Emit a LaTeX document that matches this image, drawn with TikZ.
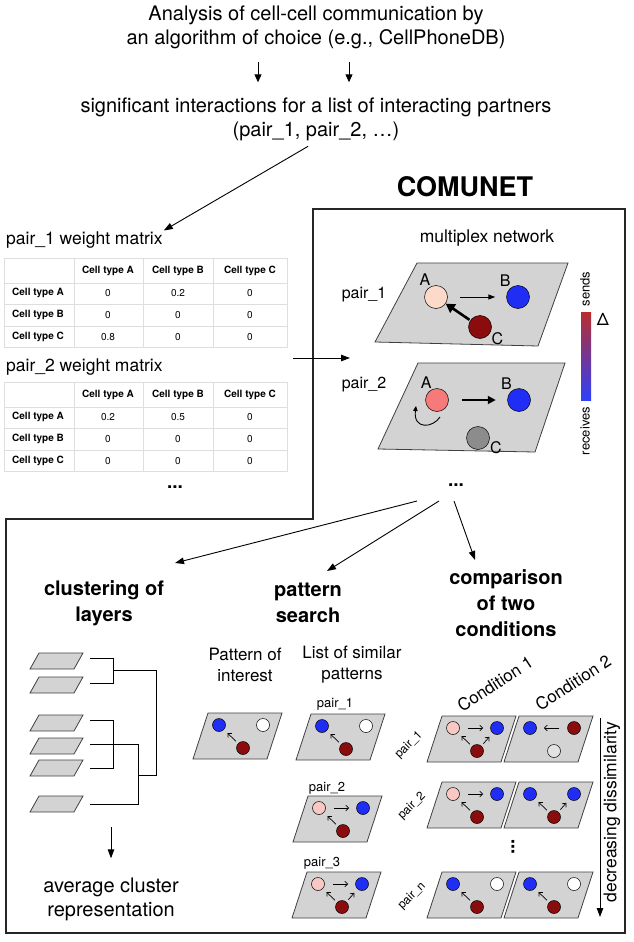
\documentclass[tikz,border=0pt]{standalone}
\usepackage{fontspec}
\setmainfont{TeX Gyre Heros}
\usepackage{tikz}
\usetikzlibrary{arrows.meta,calc,positioning}
\usepackage{xcolor}
\definecolor{slabgray}{RGB}{211,211,211}
\definecolor{cellblue}{RGB}{32,46,245}
\definecolor{cellred}{RGB}{138,12,12}
\definecolor{peach}{RGB}{252,218,202}
\definecolor{rosy}{RGB}{248,200,194}
\definecolor{salmon}{RGB}{247,122,122}
\definecolor{midgray}{RGB}{140,140,140}
\definecolor{palegray}{RGB}{226,226,226}
\definecolor{gridgray}{RGB}{222,222,222}
\definecolor{barred}{RGB}{185,45,45}
\definecolor{bargray}{RGB}{110,110,115}
\definecolor{barblue}{RGB}{45,65,250}

\tikzset{
  toptext/.style={font=\fontsize{20}{24}\selectfont, align=center, inner sep=1pt},
  midtext/.style={font=\fontsize{17.5}{21}\selectfont, align=center, inner sep=1pt},
  headtext/.style={font=\fontsize{20}{26}\selectfont\bfseries, align=center, inner sep=1pt},
  tabhead/.style={font=\fontsize{10}{12}\selectfont\bfseries, inner sep=1pt},
  tabval/.style={font=\fontsize{10}{12}\selectfont, inner sep=1pt},
  netlabel/.style={font=\fontsize{16}{18}\selectfont, inner sep=0.5pt},
  smalltext/.style={font=\fontsize{13}{15}\selectfont, inner sep=1pt},
  tinytext/.style={font=\fontsize{12}{14}\selectfont, inner sep=1pt},
  dotstext/.style={font=\fontsize{19}{20}\selectfont\bfseries, inner sep=1pt},
  slab/.style={draw=black!75, fill=slabgray, line width=0.8pt},
  cellnode/.style={circle, draw=black, line width=0.5pt, minimum size=13pt, inner sep=0pt},
  bigcell/.style={cellnode, minimum size=23pt},
  headarrow/.style={-{Triangle[length=9pt,width=6.5pt]}, line width=0.9pt},
  thinarrow/.style={-{Straight Barb[length=3pt,width=5.5pt]}, line width=0.7pt, shorten <=3pt, shorten >=5pt},
  harrow/.style={thinarrow, shorten <=8pt, shorten >=7pt},
  dendro/.style={line width=0.9pt},
  tabline/.style={draw=gridgray, line width=0.5pt},
  comubox/.style={draw=black!85, line width=1.2pt},
}

\begin{document}
\begin{tikzpicture}[x=1pt,y=-1pt]
  \useasboundingbox (0,0) rectangle (633,942);

  % input of the pipeline
  \node[toptext] (algo) at (316,27) {Analysis of cell-cell communication by\\an algorithm of choice (e.g., CellPhoneDB)};
  \node[toptext] (sig) at (316,119) {significant interactions for a list of interacting partners\\(pair\_1, pair\_2, …)};
  \foreach \dx in {-58,33}
    \draw[-{Triangle[length=8pt,width=7pt]}, line width=1pt, shorten <=12.5pt, shorten >=14pt] ([xshift=\dx pt]algo.south) -- ([xshift=\dx pt]sig.north);

  % weight matrices
  \node[midtext, anchor=west] (wone) at (5,240) {pair\_1 weight matrix};
  \node[midtext, anchor=west] (wtwo) at (5,367) {pair\_2 weight matrix};
  \draw[headarrow, shorten <=9pt] (sig.south) -- (wone.north east);
  \foreach \oy in {0,124} {
    \draw[tabline] (4,258+\oy) rectangle (287,347+\oy);
    \foreach \yy in {283,304,326} \draw[tabline] (4,\yy+\oy) -- (287,\yy+\oy);
    \foreach \xx in {74,143,213} \draw[tabline] (\xx,258+\oy) -- (\xx,347+\oy);
    \foreach \c/\xx in {A/108,B/178,C/250} \node[tabhead] (h\oy\c) at (\xx,271+\oy) {Cell type \c};
    \foreach \r/\yy in {A/293,B/315,C/337} \node[tabhead, anchor=west] (r\oy\r) at (11,\yy+\oy) {Cell type \r};
  }
  \foreach \r/\yy/\va/\vb/\vc in {A/293/0/0.2/0, B/315/0/0/0, C/337/0.8/0/0} {
    \node[tabval] (one\r a) at (108,\yy) {\va};
    \node[tabval] (one\r b) at (178,\yy) {\vb};
    \node[tabval] (one\r c) at (250,\yy) {\vc};
  }
  \foreach \r/\yy/\va/\vb/\vc in {A/417/0.2/0.5/0, B/439/0/0/0, C/461/0/0/0} {
    \node[tabval] (two\r a) at (108,\yy) {\va};
    \node[tabval] (two\r b) at (178,\yy) {\vb};
    \node[tabval] (two\r c) at (250,\yy) {\vc};
  }
  \node[dotstext] (dotstab) at (175,487) {...};

  % COMUNET box
  \node[font=\fontsize{27}{30}\selectfont\bfseries, inner sep=1pt] (cmnt) at (465,187) {COMUNET};
  \draw[comubox] (313,209) -- (625,209) -- (625,933) -- (6,933) -- (6,519) -- (313,519) -- cycle;
  \coordinate (mtxright) at (293,358);
  \coordinate (netleft) at (350,358);
  \draw[headarrow] (mtxright) -- (netleft);

  % multiplex network
  \node[midtext] (mplx) at (487,238) {multiplex network};
  \draw[slab] (417,263) -- (568,263) -- (538,346) -- (375,342) -- cycle;
  \draw[slab] (418,363) -- (565,363) -- (535,452) -- (378,449) -- cycle;
  \node[netlabel] (lone) at (364,295) {pair\_1};
  \node[netlabel] (ltwo) at (364,385) {pair\_2};
  \node[bigcell, fill=peach, label={[netlabel]115:A}] (a1) at (436,297) {};
  \node[bigcell, fill=cellblue, label={[netlabel]125:B}] (b1) at (518,297) {};
  \node[bigcell, fill=cellred, label={[netlabel]-22:C}] (c1) at (480,327) {};
  \node[bigcell, fill=salmon, label={[netlabel]114:A}] (a2) at (437,400) {};
  \node[bigcell, fill=cellblue, label={[netlabel]124:B}] (b2) at (519,400) {};
  \node[bigcell, fill=midgray, label={[netlabel]-14:C}] (c2) at (478,438) {};
  \draw[-{Triangle[length=7pt,width=5pt]}, line width=1pt, shorten <=12pt, shorten >=11pt] (a1) -- (b1);
  \draw[-{Triangle[length=9pt,width=10pt]}, line width=2.6pt, shorten <=1pt] (c1) -- (a1);
  \draw[-{Triangle[length=8pt,width=8pt]}, line width=1.8pt, shorten <=13.5pt, shorten >=11.5pt] (a2) -- (b2);
  \draw[-{Triangle[length=5pt,width=4.5pt]}, line width=0.9pt] ($(a2)+(3,17)$) .. controls ($(a2)+(-4,28)$) and ($(a2)+(-24,30)$) .. ($(a2)+(-21,6)$);
  \shade[top color=barred, middle color=bargray, bottom color=barblue] (581,312) rectangle (591,400);
  \node[smalltext, rotate=90] (sends) at (585,289) {sends};
  \node[smalltext, rotate=90] (recv) at (585,431) {receives};
  \node[font=\fontsize{17}{20}\selectfont, inner sep=1pt] (delta) at (603,319) {Δ};
  \node[dotstext] (dotsnet) at (456,485) {...};

  % three analyses
  \node[headtext] (clus) at (104,603) {clustering of\\layers};
  \node[headtext] (patt) at (308,603) {pattern\\search};
  \node[headtext] (comp) at (506,603) {comparison\\of two\\conditions};
  \coordinate (toclus) at (175,563);
  \coordinate (topatt) at (327,571);
  \coordinate (tocomp) at (475,560);
  \draw[headarrow] ($(dotsnet)+(-39,16)$) -- (toclus);
  \draw[headarrow] ($(dotsnet)+(-17,16)$) -- (topatt);
  \draw[headarrow] ($(dotsnet)+(-2,16)$) -- (tocomp);

  % clustering of layers
  \foreach \yy in {669,693,731,754,776,812}
    \draw[slab] (30,\yy) -- ++(9,-16) -- ++(44,0) -- ++(-9,16) -- cycle;
  \draw[dendro] (90,658) -| (113,683) -- (90,683);
  \draw[dendro] (113,670) -| (156,775) -- (138,775);
  \draw[dendro] (90,720) -| (113,768) -- (90,768);
  \draw[dendro] (90,744) -| (138,804) -- (90,804);
  \node[toptext] (avg) at (111,899) {average cluster\\representation};
  \coordinate (treebot) at (111,827);
  \draw[headarrow, shorten >=18pt] (treebot) -- (avg.north);

  % pattern search and comparison
  \node[midtext, font=\fontsize{17}{21}\selectfont] (poitxt) at (245,665) {Pattern of\\interest};
  \node[midtext, font=\fontsize{17}{21}\selectfont] (listtxt) at (352,665) {List of similar\\patterns};
  \node[smalltext] (lsa) at (335,704) {pair\_1};
  \node[smalltext] (lsb) at (327,788) {pair\_2};
  \node[smalltext] (lsc) at (322,863) {pair\_3};
  \node[midtext, font=\fontsize{17}{21}\selectfont, rotate=33] (condone) at (495,684) {Condition 1};
  \node[midtext, font=\fontsize{17}{21}\selectfont, rotate=33] (condtwo) at (573,683) {Condition 2};
  \node[tinytext, rotate=45] (lca) at (409,745) {pair\_1};
  \node[tinytext, rotate=45] (lcb) at (412,806) {pair\_2};
  \node[tinytext, rotate=45] (lcn) at (412,896) {pair\_n};
  \node[dotstext, rotate=90] (vdots) at (513,847) {...};
  \foreach \n/\x/\y/\cola/\colb/\colc in {poi/193/759/cellblue/white/cellred, sa/296/760/cellblue/white/cellred,
      sb/293/842/rosy/cellblue/cellred, sc/292/918/rosy/cellblue/cellred,
      ca/427/762/rosy/cellblue/cellred, da/504/762/cellblue/cellred/palegray,
      cb/427/828/rosy/cellblue/cellred, db/504/828/cellblue/cellblue/cellred,
      cn/427/918/cellblue/white/cellred, dn/504/918/cellblue/white/cellred} {
    \draw[slab] (\x,\y) -- ++(15,-46) -- ++(74,0) -- ++(-15,46) -- cycle;
    \node[cellnode, fill=\cola] (\n-l) at (\x+26,\y-34) {};
    \node[cellnode, fill=\colb] (\n-r) at (\x+70,\y-34) {};
    \node[cellnode, fill=\colc] (\n-b) at (\x+50,\y-11) {};
  }
  \foreach \s/\t in {poi-b/poi-l, sa-b/sa-l, sb-b/sb-l, sc-b/sc-l, sc-b/sc-r, ca-b/ca-l, ca-b/ca-r,
      cb-b/cb-l, db-b/db-l, db-b/db-r, cn-b/cn-l, dn-b/dn-l}
    \draw[thinarrow] (\s) -- (\t);
  \foreach \s/\t in {sb-l/sb-r, sc-l/sc-r, ca-l/ca-r, da-r/da-l, cb-l/cb-r}
    \draw[harrow] (\s) -- (\t);
  \coordinate (dtop) at (600,718);
  \coordinate (dbot) at (600,917);
  \draw[headarrow] (dtop) -- (dbot);
  \node[midtext, rotate=90] (decr) at (612,812) {decreasing dissimilarity};
\end{tikzpicture}
\end{document}
